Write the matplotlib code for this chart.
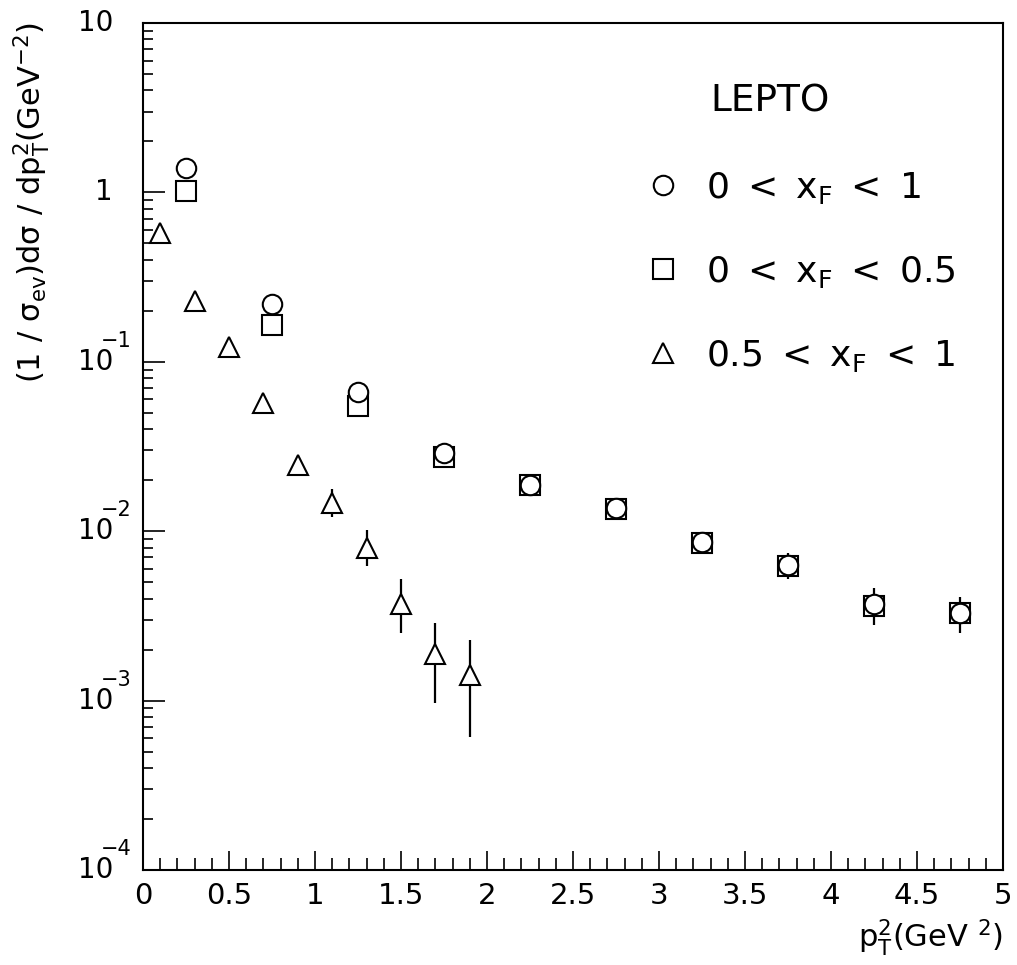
import numpy as np
import matplotlib
matplotlib.use('Agg')
import matplotlib.pyplot as plt
import matplotlib.transforms as mtransforms
from matplotlib.ticker import MultipleLocator, LogLocator, FixedLocator, NullFormatter

plt.rcParams['font.family'] = ['DejaVu Sans']
plt.rcParams['mathtext.fontset'] = 'dejavusans'

# 0 < xF < 1 (circles)
x_all = [0.25, 0.75, 1.25, 1.75, 2.25, 2.75, 3.25, 3.75, 4.25, 4.75]
y_all = [1.39, 0.219, 0.0664, 0.0290, 0.0188, 0.0137, 0.0086, 0.0063, 0.0037, 0.0033]
err_all_lo = [0, 0, 0, 0, 0, 0, 0.0011, 0.0011, 0.0009, 0.0008]
err_all_hi = [0, 0, 0, 0, 0, 0, 0.0005, 0.0011, 0.0009, 0.0008]

# 0 < xF < 0.5 (squares)
x_low = [0.25, 0.75, 1.25, 1.75, 2.25, 2.75, 3.25, 3.75, 4.25, 4.75]
y_low = [1.02, 0.165, 0.0548, 0.0274, 0.0187, 0.0136, 0.0085, 0.0062, 0.0036, 0.0033]

# 0.5 < xF < 1 (triangles)
x_high = [0.1, 0.3, 0.5, 0.7, 0.9, 1.1, 1.3, 1.5, 1.7, 1.9]
y_high = [0.575, 0.229, 0.122, 0.0571, 0.0246, 0.0147, 0.0080, 0.0037, 0.00188, 0.00142]
err_high_lo = [0, 0, 0, 0, 0.001, 0.0026, 0.0018, 0.0012, 0.00091, 0.00081]
err_high_hi = [0, 0, 0, 0, 0.001, 0.0030, 0.0022, 0.0015, 0.00099, 0.00086]

sp = '\u2002'
legend_labels = ['0' + sp + '<' + sp + r'x$_\mathregular{F}$' + sp + '<' + sp + '1',
                 '0' + sp + '<' + sp + r'x$_\mathregular{F}$' + sp + '<' + sp + '0.5',
                 '0.5' + sp + '<' + sp + r'x$_\mathregular{F}$' + sp + '<' + sp + '1']

# y decade labels: base and exponent
decades = [1e-4, 1e-3, 1e-2, 1e-1, 1, 10]
dec_base = ['10', '10', '10', '10', '1', '10']
dec_exp = ['\u22124', '\u22123', '\u22122', '\u22121', '', '']

fig = plt.figure(figsize=(10.17, 9.65), dpi=100)
ax = fig.add_axes([143 / 1017, 1 - 870 / 965, 860 / 1017, 847 / 965])

ms = 14
mew = 1.5
ax.errorbar(x_all, y_all, yerr=[err_all_lo, err_all_hi], fmt='none', ecolor='black', elinewidth=1.6, zorder=2)
ax.errorbar(x_high, y_high, yerr=[err_high_lo, err_high_hi], fmt='none', ecolor='black', elinewidth=1.6, zorder=2)
sq, = ax.plot(x_low, y_low, 's', ms=ms, mfc='white', mec='black', mew=mew, ls='none', zorder=3)
ci, = ax.plot(x_all, y_all, 'o', ms=ms, mfc='white', mec='black', mew=mew, ls='none', zorder=4)
tr, = ax.plot(x_high, y_high, '^', ms=ms, mfc='white', mec='black', mew=mew, ls='none', zorder=3)

ax.set_yscale('log')
ax.set_xlim(0, 5)
ax.set_ylim(1e-4, 10)

ax.set_xticks(np.arange(0, 5.01, 0.5))
ax.set_xticklabels(['%g' % v for v in np.arange(0, 5.01, 0.5)])
ax.xaxis.set_minor_locator(MultipleLocator(0.1))

ax.yaxis.set_major_locator(FixedLocator(decades))
ax.yaxis.set_major_formatter(NullFormatter())
ax.yaxis.set_minor_locator(LogLocator(base=10, subs=np.arange(2, 10)))
ax.yaxis.set_minor_formatter(NullFormatter())

ax.tick_params(axis='both', which='both', direction='in', top=False, right=False, width=1.2)
ax.tick_params(axis='x', which='major', length=14, labelsize=21, pad=9)
ax.tick_params(axis='x', which='minor', length=8.5)
ax.tick_params(axis='y', which='major', length=16)
ax.tick_params(axis='y', which='minor', length=7.5)
for s in ax.spines.values():
    s.set_linewidth(1.5)

# y tick labels in the old PAW style: exponent sits over the last digit
trans = mtransforms.blended_transform_factory(ax.transAxes, ax.transData)
base_x = (113 - 143) / 860
exp_tr = mtransforms.offset_copy(trans, fig=fig, x=-12, y=21, units='dots')
for val, b, e in zip(decades, dec_base, dec_exp):
    ax.text(base_x, val, b, transform=trans, ha='right', va='center', fontsize=20, clip_on=False)
    if e:
        ax.text(base_x, val, e, transform=exp_tr, ha='left', va='center', fontsize=15, clip_on=False)

ax.text(1.0, -0.056, r'$\mathregular{p_T^2(GeV\ ^2)}$', transform=ax.transAxes,
        ha='right', va='top', fontsize=22)
fig.text(32 / 1017, 1 - 203 / 965, r'$\mathregular{(1\ /\ \sigma_{ev})d\sigma\ /\ dp_T^2(GeV^{-2})}$',
         rotation=90, ha='center', va='center', fontsize=22)

ax.text((710 - 143) / 860, (870 - 102) / 847, 'LEPTO', transform=ax.transAxes,
        ha='left', va='center', fontsize=27)
ax.legend([ci, sq, tr], legend_labels, loc='upper left', bbox_to_anchor=((650 - 143) / 860, (870 - 170) / 847),
          frameon=False, fontsize=26, handlelength=0.7, handletextpad=0.85, labelspacing=1.33,
          borderpad=0, borderaxespad=0)

fig.savefig('out.png', dpi=100)
